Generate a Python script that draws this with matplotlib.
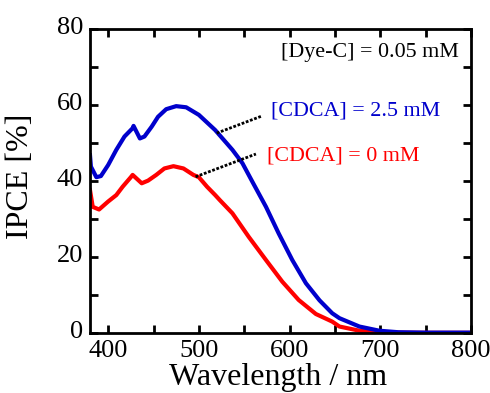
import numpy as np
import matplotlib
matplotlib.use("Agg")
import matplotlib.pyplot as plt
from matplotlib.ticker import MultipleLocator
from matplotlib.transforms import ScaledTranslation

plt.rcParams['font.family'] = ['Liberation Serif', 'DejaVu Serif']

# IPCE spectra
wl_blue = [380, 381, 387, 392, 400, 409, 418, 427, 428, 435, 440, 448, 455, 464, 475,
           486, 500, 518, 537, 548, 559, 574, 588, 603, 618, 633, 647, 655, 677, 699,
           720, 750, 800]
ipce_blue = [46.8, 43.8, 41.0, 41.3, 44.2, 48.2, 51.7, 53.9, 54.5, 51.2, 51.7, 54.3, 56.9, 58.9, 59.7,
             59.4, 57.4, 53.4, 48.2, 44.7, 39.8, 33.2, 26.2, 19.2, 13.1, 8.6, 5.2, 3.9, 1.7, 0.6,
             0.2, 0.1, 0.1]

wl_red = [380, 383, 390, 400, 409, 416, 425, 427, 437, 444, 453, 462, 472, 483, 494,
          500, 509, 518, 523, 537, 555, 574, 592, 610, 629, 647, 655, 677, 699,
          720, 750, 800]
ipce_red = [37.6, 33.2, 32.5, 34.6, 36.3, 38.5, 41.0, 41.6, 39.4, 40.1, 41.6, 43.3, 43.9, 43.3, 41.6,
            41.0, 38.5, 36.3, 35.0, 31.5, 25.3, 19.2, 13.5, 8.7, 5.0, 3.0, 1.7, 0.6, 0.2,
            0.1, 0.05, 0.05]

fig = plt.figure(figsize=(4.9, 3.93), dpi=100)
ax = fig.add_axes([90/490, 1 - 333/393, 381/490, 304/393])

ax.plot(wl_red, ipce_red, color='#ff0000', lw=3)
ax.plot(wl_blue, ipce_blue, color='#0000cc', lw=3)

# leader lines
ax.plot([519.7, 569.5], [52.6, 57.1], color='black', lw=2, ls=(0, (1, 0.6)))
ax.plot([496.4, 562.9], [41.1, 47.1], color='black', lw=2, ls=(0, (1, 0.6)))

ax.text(579.5, 58.4, '[CDCA] = 2.5 mM', color='#0000cc', fontsize=15.8, va='center', ha='left')
ax.text(575, 46.6, '[CDCA] = 0 mM', color='#ff0000', fontsize=15.8, va='center', ha='left')
ax.text(787, 73.9, '[Dye-C] = 0.05 mM', color='black', fontsize=15.8, va='center', ha='right')

ax.set_xlim(380, 800)
ax.set_ylim(0, 80)
ax.xaxis.set_major_locator(MultipleLocator(100))
ax.xaxis.set_minor_locator(MultipleLocator(50))
ax.yaxis.set_major_locator(MultipleLocator(20))
ax.yaxis.set_minor_locator(MultipleLocator(10))
ax.tick_params(which='both', direction='in', top=True, right=True, width=2, labelsize=19)
ax.tick_params(which='major', length=6)
ax.tick_params(which='minor', length=6)
ax.tick_params(axis='y', pad=5)
ax.tick_params(axis='x', pad=5)
for s in ax.spines.values():
    s.set_linewidth(2)

# y tick labels sit a little above their ticks in the original
shift = ScaledTranslation(0, 3/100, fig.dpi_scale_trans)
for lab in ax.get_yticklabels():
    lab.set_transform(lab.get_transform() + shift)

ax.set_xlabel('Wavelength / nm', fontsize=23)
ax.set_ylabel('IPCE [%]', fontsize=23)
ax.xaxis.set_label_coords(0.494, -0.098)
ax.yaxis.set_label_coords(-0.144, 0.516)

fig.savefig('out.png', dpi=100)
